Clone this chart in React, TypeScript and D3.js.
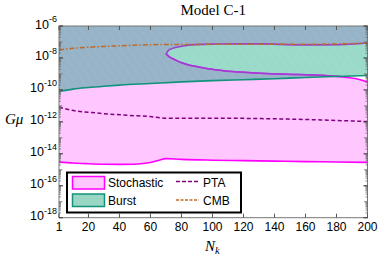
import React from 'react';
import * as d3 from 'd3';

// exponents of G mu
const stochN = [1, 10, 20, 30, 40, 50, 60, 65, 70, 80, 100, 120, 140, 160, 180, 200];
const stochLow = [-14.52, -14.58, -14.62, -14.65, -14.66, -14.65, -14.55, -14.42, -14.3, -14.35, -14.4, -14.43, -14.46, -14.49, -14.51, -14.54];

const burstN = [1, 10, 20, 30, 40, 60, 80, 100, 120, 140, 160, 180, 200];
const burstLow = [-10.1, -9.95, -9.85, -9.77, -9.7, -9.6, -9.5, -9.42, -9.36, -9.3, -9.22, -9.16, -9.1];

// island where stochastic signal is absent
const holeN = [70, 72, 76, 81, 92, 103, 113, 131, 156, 169, 182, 192, 200];
const holeHigh = [-7.73, -7.5, -7.35, -7.25, -7.15, -7.13, -7.12, -7.12, -7.18, -7.18, -7.17, -7.12, -7.06];
const holeLow = [-7.73, -7.92, -8.12, -8.33, -8.58, -8.75, -8.85, -8.96, -9.04, -9.08, -9.17, -9.29, -9.5];

const ptaN = [1, 8, 27, 47, 60, 69, 100, 150, 200];
const pta = [-11.08, -11.25, -11.46, -11.6, -11.67, -11.77, -11.77, -11.83, -11.98];

const cmbN = [1, 10, 20, 30, 50, 70, 100, 150, 200];
const cmb = [-7.5, -7.4, -7.33, -7.28, -7.2, -7.16, -7.15, -7.15, -7.08];

const xTicks = [1, 20, 40, 60, 80, 100, 120, 140, 160, 180, 200];
const yTicks = [-18, -16, -14, -12, -10, -8, -6];

const W = 378;
const H = 259;
const left = 59;
const right = 367.5;
const top = 26;
const bottom = 217.7;

export default function App() {
  const x = d3.scaleLinear().domain([1, 200]).range([left, right]);
  const y = d3.scaleLog().domain([1e-18, 1e-6]).range([bottom, top]);
  const p = (e: number) => y(Math.pow(10, e));

  const zip = (ns: number[], vs: number[]) => ns.map((n, i) => [n, vs[i]] as [number, number]);

  const mkLine = d3
    .line<[number, number]>()
    .x((d) => x(d[0]))
    .y((d) => p(d[1]))
    .curve(d3.curveMonotoneX);

  const toTop = d3
    .area<[number, number]>()
    .x((d) => x(d[0]))
    .y0((d) => p(d[1]))
    .y1(top)
    .curve(d3.curveMonotoneX);

  const holeArea = d3
    .area<number>()
    .x((d) => x(d))
    .y0((_, i) => p(holeLow[i]))
    .y1((_, i) => p(holeHigh[i]))
    .curve(d3.curveMonotoneX);

  const stochPts = zip(stochN, stochLow);
  const burstPts = zip(burstN, burstLow);
  const hiPts = zip(holeN, holeHigh);
  const loPts = zip(holeN, holeLow);

  // minor ticks on log axis
  const minor: number[] = [];
  for (let e = -18; e < -6; e++) {
    for (let k = 1; k < 10; k++) {
      if (k === 1 && e % 2 === 0) continue;
      minor.push(Math.log10(k) + e);
    }
  }

  const sans = 'Liberation Sans, Arial, sans-serif';
  const serif = 'Liberation Serif, Times New Roman, serif';

  return (
    <svg width={W} height={H} style={{ position: 'absolute', left: 0, top: 0 }}>
      <defs>
        <clipPath id="plot">
          <rect x={left} y={top} width={right - left} height={bottom - top} />
        </clipPath>
        <clipPath id="burst">
          <path d={toTop(burstPts) || ''} />
        </clipPath>
        <pattern id="mesh" width="7" height="7" patternUnits="userSpaceOnUse" patternTransform="rotate(-35)">
          <line x1="0" y1="0" x2="0" y2="7" stroke="#ffffff" strokeOpacity="0.15" strokeWidth="0.8" />
        </pattern>
      </defs>

      <text x={(left + right) / 2} y={15} textAnchor="middle" fontFamily={serif} fontSize={15}>
        Model C-1
      </text>

      <g clipPath="url(#plot)">
        <path d={toTop(stochPts) || ''} fill="#ffc6ff" />
        <path d={toTop(burstPts) || ''} fill="#96b3c7" />
        <path d={holeArea(holeN) || ''} fill="#ffffff" />
        <g clipPath="url(#burst)">
          <path d={holeArea(holeN) || ''} fill="#99dbc8" />
        </g>
        <path d={toTop(stochPts) || ''} fill="url(#mesh)" />
        <path d={mkLine(stochPts) || ''} fill="none" stroke="#ff00ff" strokeWidth={1.6} />
        <path d={mkLine(loPts) || ''} fill="none" stroke="#ff00ff" strokeWidth={1.6} />
        <g clipPath="url(#burst)">
          <path d={mkLine(hiPts) || ''} fill="none" stroke="#9a3fd0" strokeWidth={1.6} />
          <path d={mkLine(loPts) || ''} fill="none" stroke="#9a3fd0" strokeWidth={1.6} />
        </g>
        <path d={mkLine(burstPts) || ''} fill="none" stroke="#10937a" strokeWidth={1.6} />
        <path
          d={mkLine(zip(ptaN, pta)) || ''}
          fill="none"
          stroke="#800080"
          strokeWidth={1.5}
          strokeDasharray="4,2.5"
        />
        <path
          d={mkLine(zip(cmbN, cmb)) || ''}
          fill="none"
          stroke="#c06a28"
          strokeWidth={1.5}
          strokeDasharray="5,2,1.5,2"
        />
      </g>

      {/* frame */}
      <rect x={left} y={top} width={right - left} height={bottom - top} fill="none" stroke="#777" strokeWidth={1} />
      {xTicks.map((t) => (
        <g key={'x' + t}>
          <line x1={x(t)} x2={x(t)} y1={bottom} y2={bottom - 4} stroke="#555" />
          <line x1={x(t)} x2={x(t)} y1={top} y2={top + 4} stroke="#555" />
          <text x={x(t)} y={231} textAnchor="middle" fontFamily={sans} fontSize={12}>
            {t}
          </text>
        </g>
      ))}
      {yTicks.map((e) => (
        <g key={'y' + e}>
          <line x1={left} x2={left + 4} y1={p(e)} y2={p(e)} stroke="#444" strokeWidth={1.2} />
          <line x1={right} x2={right - 4} y1={p(e)} y2={p(e)} stroke="#444" strokeWidth={1.2} />
          <text x={57} y={p(e) + 2.5} textAnchor="end" fontFamily={sans} fontSize={12.5}>
            10
            <tspan fontSize={9} dy={-6.5}>
              {e}
            </tspan>
          </text>
        </g>
      ))}
      {minor.map((e, i) => {
        const len = Math.abs(e - Math.round(e)) < 1e-9 ? 3.5 : 2;
        return (
          <g key={'m' + i}>
            <line x1={left} x2={left + len} y1={p(e)} y2={p(e)} stroke="#666" strokeWidth={0.8} />
            <line x1={right} x2={right - len} y1={p(e)} y2={p(e)} stroke="#666" strokeWidth={0.8} />
          </g>
        );
      })}

      {/* axis labels */}
      <text x={5} y={124} fontFamily={serif} fontSize={15} fontStyle="italic">
        Gμ
      </text>
      <text x={205} y={251} fontFamily={serif} fontSize={15} fontStyle="italic">
        N
        <tspan fontSize={10.5} dy={3}>
          k
        </tspan>
      </text>

      {/* legend */}
      <g>
        <rect x={67} y={172.5} width={174} height={40} fill="#ffffff" stroke="#000" strokeWidth={2} />
        <rect x={72.5} y={176.5} width={32} height={12.5} fill="#ffc6ff" stroke="#ff00ff" strokeWidth={1.5} />
        <text x={108} y={186.5} fontFamily={sans} fontSize={12}>
          Stochastic
        </text>
        <rect x={72.5} y={194} width={32} height={12.5} fill="#99d6c4" stroke="#10937a" strokeWidth={1.5} />
        <text x={108} y={205} fontFamily={sans} fontSize={12}>
          Burst
        </text>
        <line x1={176} x2={199} y1={181.5} y2={181.5} stroke="#800080" strokeWidth={1.5} strokeDasharray="4,2" />
        <text x={203} y={186.5} fontFamily={sans} fontSize={12}>
          PTA
        </text>
        <line x1={176} x2={199} y1={200} y2={200} stroke="#c06a28" strokeWidth={1.3} strokeDasharray="3,1.5" />
        <text x={203} y={205} fontFamily={sans} fontSize={12}>
          CMB
        </text>
      </g>
    </svg>
  );
}
